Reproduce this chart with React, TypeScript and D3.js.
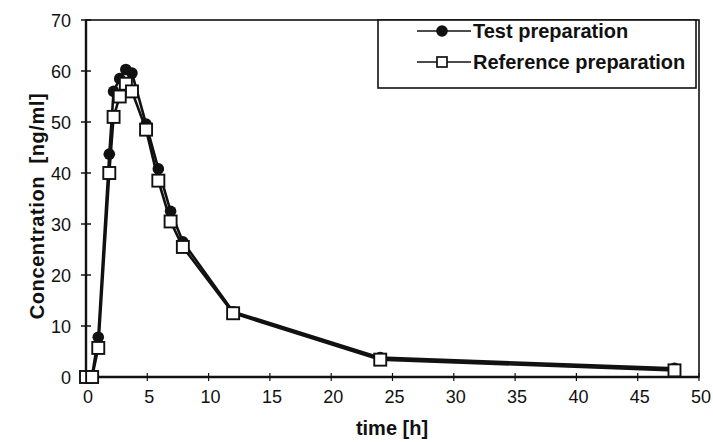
import * as React from "react";
import * as d3 from "d3";

const times = [0, 0.5, 1, 1.9, 2.25, 2.75, 3.25, 3.75, 4.9, 5.9, 6.9, 7.9, 12, 24, 48];
const testValues = [0, 0.3, 7.8, 43.7, 56, 58.5, 60.3, 59.6, 49.6, 40.8, 32.5, 26.5, 12.8, 3.8, 1.7];
const refValues = [0, 0, 5.7, 40, 51, 55, 57.5, 56, 48.5, 38.5, 30.5, 25.5, 12.5, 3.4, 1.3];
const xTicks = [0, 5, 10, 15, 20, 25, 30, 35, 40, 45, 50];
const yTicks = [0, 10, 20, 30, 40, 50, 60, 70];

const W = 713;
const H = 442;
const font = "Arial, 'Liberation Sans', Helvetica, sans-serif";

export default function App() {
  const ref = React.useRef<SVGSVGElement | null>(null);

  React.useEffect(() => {
    const svg = d3.select(ref.current);
    svg.selectAll("*").remove();

    const x = d3.scaleLinear([0, 50], [86, 699]);
    const y = d3.scaleLinear([0, 70], [377, 20]);

    // plot frame
    svg
      .append("rect")
      .attr("x", x(0))
      .attr("y", y(70))
      .attr("width", x(50) - x(0))
      .attr("height", y(0) - y(70))
      .attr("fill", "none")
      .attr("stroke", "#111")
      .attr("stroke-width", 1.6);
    svg
      .append("line")
      .attr("x1", x(0))
      .attr("x2", x(0))
      .attr("y1", y(70))
      .attr("y2", y(0))
      .attr("stroke", "#111")
      .attr("stroke-width", 2.4);
    svg
      .append("line")
      .attr("x1", x(0))
      .attr("x2", x(50))
      .attr("y1", y(0))
      .attr("y2", y(0))
      .attr("stroke", "#111")
      .attr("stroke-width", 2.4);

    // y ticks + labels
    const yg = svg.append("g");
    yg.selectAll("line")
      .data(yTicks)
      .enter()
      .append("line")
      .attr("x1", x(0) - 5)
      .attr("x2", x(0) + 5)
      .attr("y1", (d) => y(d))
      .attr("y2", (d) => y(d))
      .attr("stroke", "#111")
      .attr("stroke-width", 1.5);
    yg.selectAll("text")
      .data(yTicks)
      .enter()
      .append("text")
      .attr("x", 71)
      .attr("y", (d) => y(d) + 6.5)
      .attr("text-anchor", "end")
      .attr("font-family", font)
      .attr("font-size", 18)
      .attr("fill", "#111")
      .text((d) => d);

    // x ticks + labels
    const xg = svg.append("g");
    xg.selectAll("line")
      .data(xTicks)
      .enter()
      .append("line")
      .attr("x1", (d) => x(d))
      .attr("x2", (d) => x(d))
      .attr("y1", y(0) - 4)
      .attr("y2", y(0) + 4)
      .attr("stroke", "#111")
      .attr("stroke-width", 1.2);
    xg.selectAll("text")
      .data(xTicks)
      .enter()
      .append("text")
      .attr("x", (d) => x(d) + 2)
      .attr("y", 403)
      .attr("text-anchor", "middle")
      .attr("font-family", font)
      .attr("font-size", 18)
      .attr("fill", "#111")
      .text((d) => d);

    // axis titles
    svg
      .append("text")
      .attr("x", 392)
      .attr("y", 435)
      .attr("text-anchor", "middle")
      .attr("font-family", font)
      .attr("font-size", 20)
      .attr("font-weight", "bold")
      .attr("fill", "#111")
      .text("time [h]");
    svg
      .append("text")
      .attr("transform", "translate(44,206) rotate(-90)")
      .attr("text-anchor", "middle")
      .attr("font-family", font)
      .attr("font-size", 20)
      .attr("font-weight", "bold")
      .attr("letter-spacing", 0.6)
      .attr("fill", "#111")
      .attr("xml:space", "preserve")
      .text("Concentration  [ng/ml]");

    const line = d3
      .line<number>()
      .x((_, i) => x(times[i]))
      .y((d) => y(d));

    // test preparation
    svg
      .append("path")
      .attr("d", line(testValues))
      .attr("fill", "none")
      .attr("stroke", "#111")
      .attr("stroke-width", 2.6);
    svg
      .append("g")
      .selectAll("circle")
      .data(testValues)
      .enter()
      .append("circle")
      .attr("cx", (_, i) => x(times[i]))
      .attr("cy", (d) => y(d))
      .attr("r", 5.8)
      .attr("fill", "#111");

    // reference preparation
    svg
      .append("path")
      .attr("d", line(refValues))
      .attr("fill", "none")
      .attr("stroke", "#111")
      .attr("stroke-width", 2.6);
    svg
      .append("g")
      .selectAll("rect")
      .data(refValues)
      .enter()
      .append("rect")
      .attr("x", (_, i) => x(times[i]) - 6)
      .attr("y", (d) => y(d) - 6)
      .attr("width", 12)
      .attr("height", 12)
      .attr("fill", "#fff")
      .attr("stroke", "#111")
      .attr("stroke-width", 1.9);

    // legend
    const lg = svg.append("g");
    lg.append("rect")
      .attr("x", 378)
      .attr("y", 20)
      .attr("width", 318)
      .attr("height", 68)
      .attr("fill", "#fff")
      .attr("stroke", "#111")
      .attr("stroke-width", 1.6);
    const entries = [
      { label: "Test preparation", yy: 31, kind: "circle" },
      { label: "Reference preparation", yy: 62, kind: "square" },
    ];
    entries.forEach((e) => {
      lg.append("line")
        .attr("x1", 417)
        .attr("x2", 471)
        .attr("y1", e.yy)
        .attr("y2", e.yy)
        .attr("stroke", "#111")
        .attr("stroke-width", 1.5);
      if (e.kind === "circle") {
        lg.append("circle").attr("cx", 442).attr("cy", e.yy).attr("r", 5.8).attr("fill", "#111");
      } else {
        lg.append("rect")
          .attr("x", 437)
          .attr("y", e.yy - 5)
          .attr("width", 10)
          .attr("height", 10)
          .attr("fill", "#fff")
          .attr("stroke", "#111")
          .attr("stroke-width", 1.7);
      }
      lg.append("text")
        .attr("x", 473)
        .attr("y", e.yy + 6.5)
        .attr("font-family", font)
        .attr("font-size", 20)
        .attr("font-weight", "bold")
        .attr("fill", "#111")
        .text(e.label);
    });
  }, []);

  return (
    <div style={{ position: "absolute", left: 0, top: 0 }}>
      <svg ref={ref} width={W} height={H} style={{ display: "block", background: "#fff" }} />
    </div>
  );
}
